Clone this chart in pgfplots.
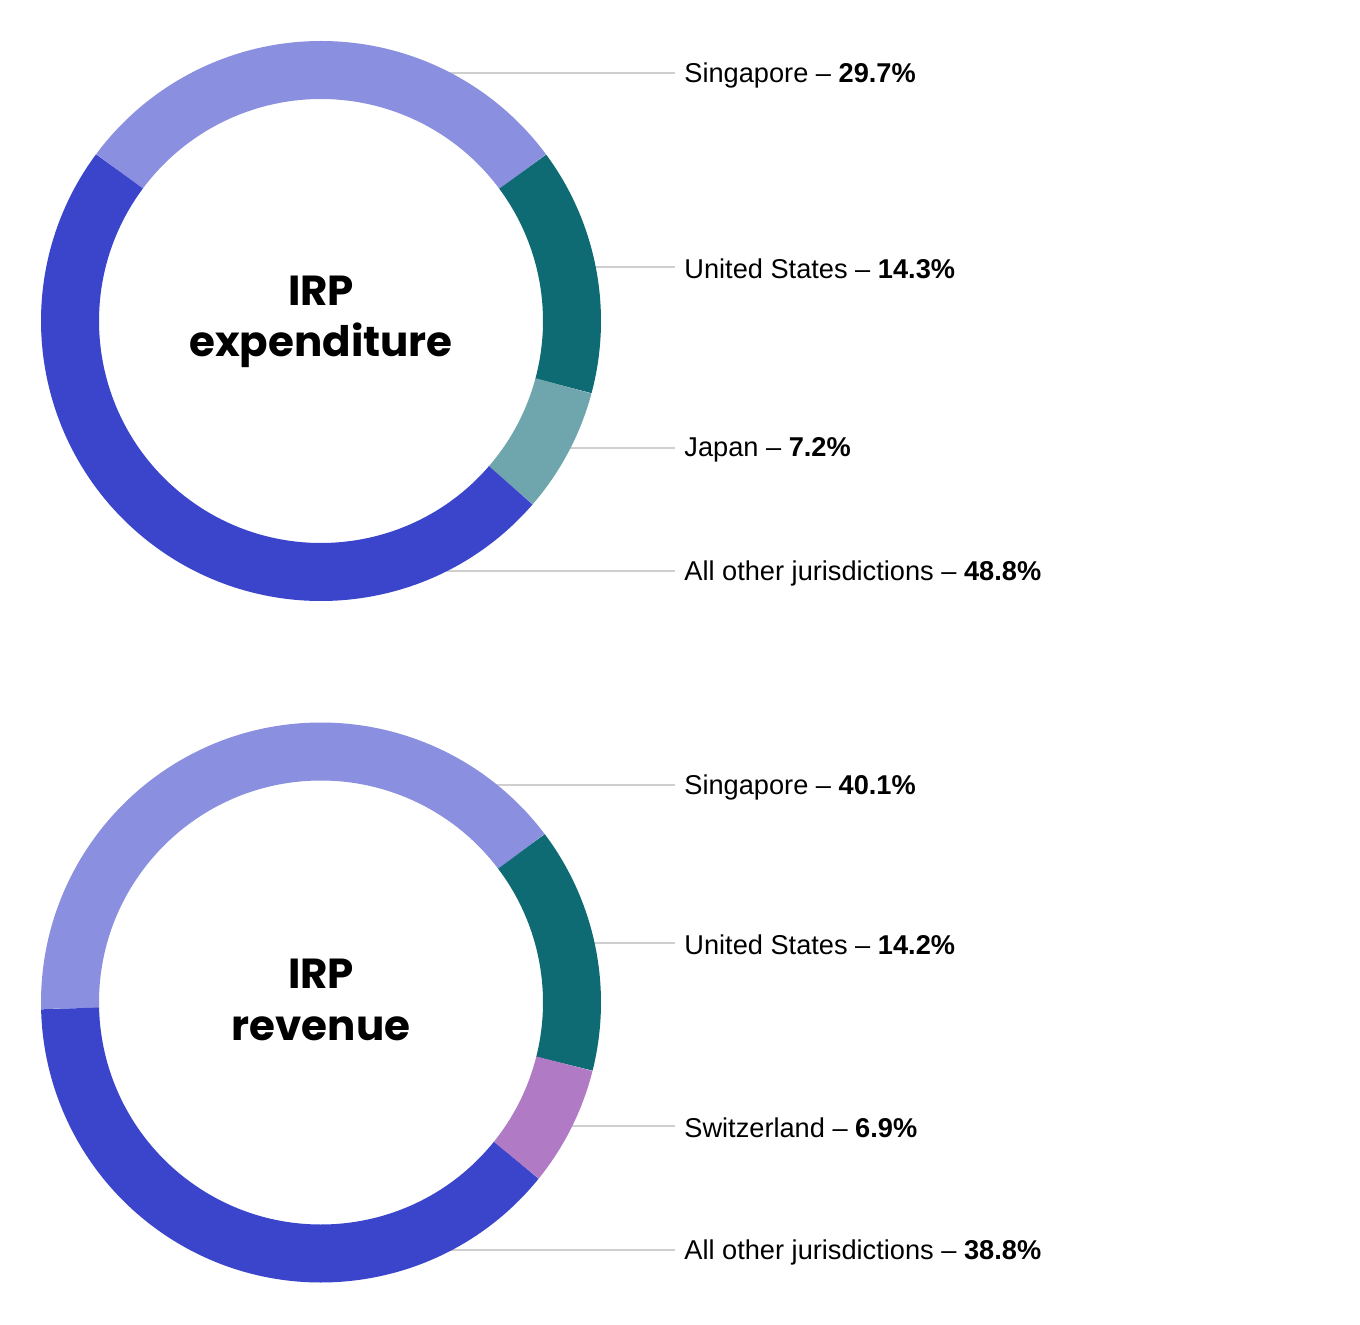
\documentclass[border=0pt]{standalone}
\usepackage{pgfplots}
\pgfplotsset{compat=1.18}
\usepackage{fontspec}
\setmainfont{Liberation Sans}
\newfontfamily\poppins{Poppins}

\definecolor{cSing}{HTML}{8A8FDF}
\definecolor{cUS}{HTML}{0E6A73}
\definecolor{cJap}{HTML}{6FA6AD}
\definecolor{cOther}{HTML}{3A45CB}
\definecolor{cSwiss}{HTML}{B07AC4}
\definecolor{leader}{HTML}{CFCFCF}

% shares in percent
\def\eSing{29.7}\def\eUS{14.3}\def\eJap{7.2}\def\eOther{48.8}
\def\rSing{40.1}\def\rUS{14.2}\def\rSwiss{6.9}\def\rOther{38.8}

\begin{document}
\begin{tikzpicture}
% segment angles, clockwise from the top left
\pgfmathsetmacro\ea{36.5+3.6*\eSing}
\pgfmathsetmacro\eb{\ea-3.6*\eSing}
\pgfmathsetmacro\ec{\eb-3.6*\eUS}
\pgfmathsetmacro\ed{\ec-3.6*\eJap}
\pgfmathsetmacro\ee{\ed-3.6*\eOther}
\pgfmathsetmacro\ra{37+3.6*\rSing}
\pgfmathsetmacro\rb{\ra-3.6*\rSing}
\pgfmathsetmacro\rc{\rb-3.6*\rUS}
\pgfmathsetmacro\rd{\rc-3.6*\rSwiss}
\pgfmathsetmacro\re{\rd-3.6*\rOther}
\useasboundingbox (0,0) rectangle (680pt,662pt);
\begin{axis}[
  at={(0,0)}, anchor=south west,
  scale only axis, width=680pt, height=662pt,
  xmin=0, xmax=1360, ymin=0, ymax=1324,
  hide axis, clip=false,
]
  % leader lines
  \addplot[leader, line width=0.7pt, no marks] coordinates {(360,1251) (675,1251)};
  \addplot[leader, line width=0.7pt, no marks] coordinates {(566,1057) (675,1057)};
  \addplot[leader, line width=0.7pt, no marks] coordinates {(537,876) (675,876)};
  \addplot[leader, line width=0.7pt, no marks] coordinates {(343,753) (675,753)};
  \addplot[leader, line width=0.7pt, no marks] coordinates {(446,539) (675,539)};
  \addplot[leader, line width=0.7pt, no marks] coordinates {(565,381) (675,381)};
  \addplot[leader, line width=0.7pt, no marks] coordinates {(540,198) (675,198)};
  \addplot[leader, line width=0.7pt, no marks] coordinates {(363,74) (675,74)};

  % IRP expenditure ring
  \draw[cSing, line width=29pt] (axis cs:321,1003) ++(\ea:125.5pt) arc[start angle=\ea, end angle=\eb, radius=125.5pt];
  \draw[cUS, line width=29pt] (axis cs:321,1003) ++(\eb:125.5pt) arc[start angle=\eb, end angle=\ec, radius=125.5pt];
  \draw[cJap, line width=29pt] (axis cs:321,1003) ++(\ec:125.5pt) arc[start angle=\ec, end angle=\ed, radius=125.5pt];
  \draw[cOther, line width=29pt] (axis cs:321,1003) ++(\ed:125.5pt) arc[start angle=\ed, end angle=\ee, radius=125.5pt];

  % IRP revenue ring
  \draw[cSing, line width=29pt] (axis cs:321,321.5) ++(\ra:125.5pt) arc[start angle=\ra, end angle=\rb, radius=125.5pt];
  \draw[cUS, line width=29pt] (axis cs:321,321.5) ++(\rb:125.5pt) arc[start angle=\rb, end angle=\rc, radius=125.5pt];
  \draw[cSwiss, line width=29pt] (axis cs:321,321.5) ++(\rc:125.5pt) arc[start angle=\rc, end angle=\rd, radius=125.5pt];
  \draw[cOther, line width=29pt] (axis cs:321,321.5) ++(\rd:125.5pt) arc[start angle=\rd, end angle=\re, radius=125.5pt];

  % centre titles
  \tikzset{ttl/.style={anchor=base, font=\poppins\bfseries\fontsize{21}{25}\selectfont}}
  \node[ttl] at (axis cs:321,1018) {IRP};
  \node[ttl] at (axis cs:321,967) {expenditure};
  \node[ttl] at (axis cs:321,336) {IRP};
  \node[ttl] at (axis cs:321,284) {revenue};

  % labels
  \tikzset{lab/.style={anchor=west, inner sep=0pt, font=\fontsize{13.6}{16}\selectfont}}
  \node[lab] at (axis cs:684,1249) {Singapore -- \textbf{\eSing\%}};
  \node[lab] at (axis cs:684,1055) {United States -- \textbf{\eUS\%}};
  \node[lab] at (axis cs:684,874) {Japan -- \textbf{\eJap\%}};
  \node[lab] at (axis cs:684,751) {All other jurisdictions -- \textbf{\eOther\%}};
  \node[lab] at (axis cs:684,537) {Singapore -- \textbf{\rSing\%}};
  \node[lab] at (axis cs:684,379) {United States -- \textbf{\rUS\%}};
  \node[lab] at (axis cs:684,196) {Switzerland -- \textbf{\rSwiss\%}};
  \node[lab] at (axis cs:684,72) {All other jurisdictions -- \textbf{\rOther\%}};
\end{axis}
\end{tikzpicture}
\end{document}
